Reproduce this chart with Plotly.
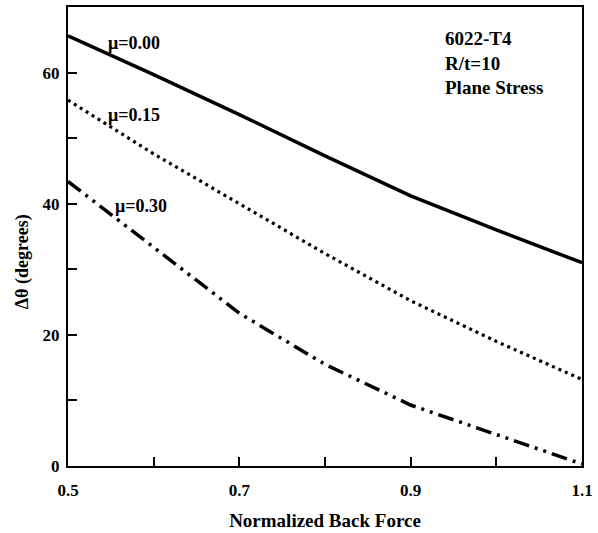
import plotly.graph_objects as go

force = [0.5, 0.6, 0.7, 0.8, 0.9, 1.0, 1.1]
mu000 = [65.6, 59.7, 53.6, 47.3, 41.2, 36.0, 31.0]
mu015 = [55.8, 47.6, 40.0, 32.4, 25.2, 19.0, 13.2]
mu030 = [43.4, 33.3, 23.3, 15.5, 9.3, 4.8, 0.3]

x_ticks = [0.5, 0.6, 0.7, 0.8, 0.9, 1.0, 1.1]
x_text = ["0.5", "", "0.7", "", "0.9", "", "1.1"]
y_ticks = [0, 10, 20, 30, 40, 50, 60]
y_text = ["0", "", "20", "", "40", "", "60"]

def f(size):
    return dict(family="Liberation Serif", size=size, color="black", weight="bold")

fig = go.Figure()
fig.add_trace(go.Scatter(x=force, y=mu000, mode="lines",
                         line=dict(color="black", width=3.5)))
fig.add_trace(go.Scatter(x=force, y=mu015, mode="lines",
                         line=dict(color="black", width=3.2, dash="3px,4px")))
fig.add_trace(go.Scatter(x=force, y=mu030, mode="lines",
                         line=dict(color="black", width=3.5, dash="16px,6px,3px,6px,3px,6px")))

ann = [
    dict(x=0.544, y=64.5, text="μ=0.00", size=18, align="left"),
    dict(x=0.544, y=53.6, text="μ=0.15", size=18, align="left"),
    dict(x=0.552, y=39.6, text="μ=0.30", size=18, align="left"),
    dict(x=0.938, y=61.4, text="6022-T4<br>R/t=10<br>Plane Stress", size=19, align="left"),
]
for a in ann:
    size = a.pop("size")
    fig.add_annotation(xref="x", yref="y", showarrow=False, font=f(size),
                       xanchor="left", yanchor="middle", **a)

# y-axis title placed as rotated text
fig.add_annotation(xref="paper", yref="y", x=-0.088, y=31.2, text="Δθ (degrees)",
                   textangle=-90, showarrow=False, font=f(18),
                   xanchor="center", yanchor="middle")

axis_common = dict(showgrid=False, zeroline=False, showline=True, linecolor="black",
                   linewidth=2, mirror=True, ticks="inside", tickcolor="black",
                   tickwidth=2, ticklen=9, tickfont=f(17), ticklabeloverflow="allow")
fig.update_xaxes(range=[0.5, 1.1], tickvals=x_ticks, ticktext=x_text,
                 title=dict(text="Normalized Back Force", font=f(19), standoff=14),
                 ticklabelstandoff=8, **axis_common)
fig.update_yaxes(range=[0, 70], tickvals=y_ticks, ticktext=y_text,
                 ticklabelstandoff=3, **axis_common)

fig.update_layout(width=598, height=533, showlegend=False,
                  plot_bgcolor="white", paper_bgcolor="white",
                  margin=dict(l=68, r=8, t=5, b=66))
fig.write_html("out.html", config={"displayModeBar": False},
               post_script="document.body.style.margin='0';")
